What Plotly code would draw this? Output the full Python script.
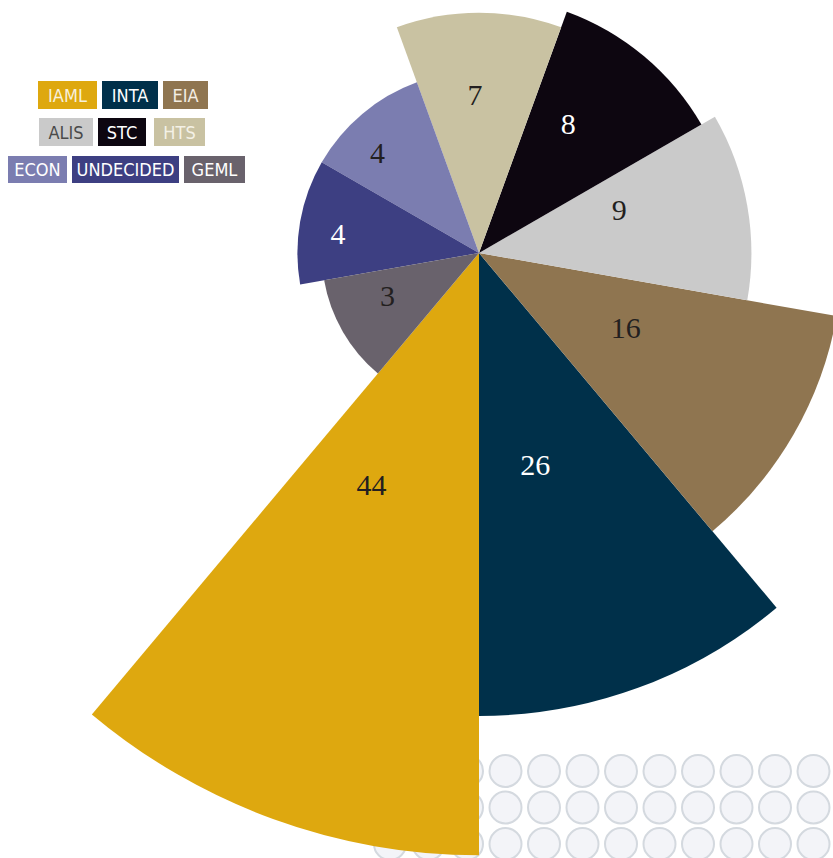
import plotly.graph_objects as go

categories = ["IAML", "INTA", "EIA", "ALIS", "STC", "HTS", "ECON", "UNDECIDED", "GEML"]
counts = [44, 26, 16, 9, 8, 7, 4, 4, 3]
colors = ["#DEA80F", "#00304A", "#8F7550", "#CACACA", "#0D0610",
          "#C9C2A2", "#7B7DB0", "#3D3F82", "#69626C"]
label_colors = ["#231F20", "white", "#231F20", "#231F20", "white",
                "#231F20", "#231F20", "white", "#231F20"]
legend_text_colors = ["#F7F0DC", "white", "#F4EEE4", "#4A4A4A", "white",
                      "#F4F1E6", "white", "white", "white"]

# visible page and where the rose sits on it
VW, VH = 833, 858
CX, CY = 478.5, 253
PX_PER_UNIT = 90.8           # pixels per unit of sqrt(count): wedge area ~ count

# the rose overflows the page, so the figure is drawn larger and shifted
R_PX = 614
FW = FH = 2 * R_PX
OX, OY = R_PX - CX, R_PX - CY

sector = 360 / len(categories)
thetas = [(200 - sector * i) % 360 for i in range(len(categories))]
radii = [c ** 0.5 for c in counts]

# label placement: angle clockwise from top, distance from centre in px
label_theta = [204.6, 165.3, 117.9, 73.7, 35.1, -1.5, -46.1, -83.4, -116.3]
label_r_px = [258, 222, 166, 146, 155, 156, 141, 142, 102]

fig = go.Figure()

# decorative dot grid in the lower right, behind the rose
dot_cols = [813 - 38.5 * k for k in range(12)]
dot_rows = [771, 807.5, 844]
fig.add_trace(
    go.Scatter(
        x=[x for y in dot_rows for x in dot_cols],
        y=[y for y in dot_rows for x in dot_cols],
        mode="markers",
        marker={"size": 32, "color": "#F3F4F8", "line": {"color": "#D4D9DF", "width": 2}},
        hoverinfo="skip",
        showlegend=False,
    )
)

fig.add_trace(
    go.Barpolar(
        r=radii,
        theta=thetas,
        width=[sector] * len(categories),
        marker={"color": colors, "line": {"width": 0}},
        customdata=counts,
        text=categories,
        hovertemplate="%{text}: %{customdata}<extra></extra>",
        showlegend=False,
    )
)

fig.add_trace(
    go.Scatterpolar(
        r=[r / PX_PER_UNIT for r in label_r_px],
        theta=label_theta,
        mode="text",
        text=[str(c) for c in counts],
        textfont={"family": "Liberation Serif, DejaVu Serif, serif", "size": 30,
                  "color": label_colors},
        hoverinfo="skip",
        showlegend=False,
    )
)

# legend chips: (left px, top px, width px, height px)
chips = [
    (37, 81, 59, 28), (101, 81, 56, 28), (162, 81, 45, 28),
    (38, 118, 54, 28), (97, 118, 48, 28), (153, 118, 51, 28),
    (7, 156, 59, 27), (71, 156, 107, 27), (183, 156, 61, 27),
]
for (left, top, w, h), name, bg, fg in zip(chips, categories, colors, legend_text_colors):
    fig.add_annotation(
        x=(left + OX) / FW, y=1 - (top + OY) / FH, xref="paper", yref="paper",
        xanchor="left", yanchor="top",
        text=name, showarrow=False,
        width=w, height=h, borderpad=0, borderwidth=0,
        bgcolor=bg, align="center", valign="middle",
        font={"family": "DejaVu Sans Condensed, Roboto, sans-serif",
              "size": 18, "color": fg},
    )

fig.update_layout(
    width=FW,
    height=FH,
    margin={"l": 0, "r": 0, "t": 0, "b": 0},
    paper_bgcolor="white",
    plot_bgcolor="white",
    showlegend=False,
    xaxis={"range": [-OX, FW - OX], "visible": False, "fixedrange": True},
    yaxis={"range": [FH - OY, -OY], "visible": False, "fixedrange": True},
    polar={
        "domain": {"x": [0, 1], "y": [0, 1]},
        "bgcolor": "rgba(0,0,0,0)",
        "radialaxis": {"range": [0, R_PX / PX_PER_UNIT], "visible": False},
        "angularaxis": {"rotation": 90, "direction": "clockwise", "visible": False},
        "bargap": 0,
    },
)

# pin the oversized figure so the rose centre lands where it is on the page
shift = (
    "var gd = document.getElementById('{plot_id}');"
    "document.documentElement.style.overflow = 'hidden';"
    "document.body.style.margin = '0';"
    "document.body.style.overflow = 'hidden';"
    f"gd.style.position = 'absolute'; gd.style.left = '{-OX}px'; gd.style.top = '{-OY}px';"
)
fig.write_html("out.html", post_script=shift)
